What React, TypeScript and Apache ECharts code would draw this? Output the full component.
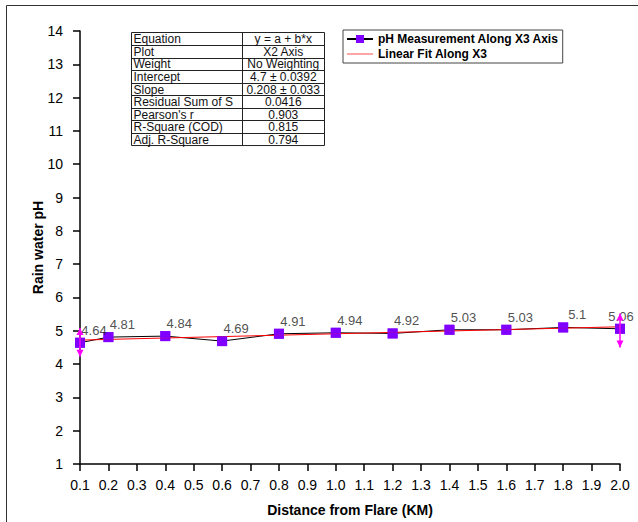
import React, { useEffect, useRef } from "react";
import * as echarts from "echarts";

const distances = [0.1, 0.2, 0.4, 0.6, 0.8, 1.0, 1.2, 1.4, 1.6, 1.8, 2.0];
const phValues = [4.64, 4.81, 4.84, 4.69, 4.91, 4.94, 4.92, 5.03, 5.03, 5.1, 5.06];
const fitX = [0.1, 2.0];
const fitY = [4.72, 5.12];
const errX = [0.1, 2.0];
const errLow = [4.22, 4.5];
const errHigh = [5.08, 5.52];
const tableLabels = [
  "Equation",
  "Plot",
  "Weight",
  "Intercept",
  "Slope",
  "Residual Sum of S",
  "Pearson's r",
  "R-Square (COD)",
  "Adj. R-Square",
];
const tableValues = [
  "y = a + b*x",
  "X2 Axis",
  "No Weighting",
  "4.7 ± 0.0392",
  "0.208 ± 0.033",
  "0.0416",
  "0.903",
  "0.815",
  "0.794",
];

const FONT = "'Liberation Sans', Arial, Helvetica, sans-serif";

export default function App() {
  const ref = useRef<HTMLDivElement>(null);
  useEffect(() => {
    if (!ref.current) return;
    const chart = echarts.init(ref.current, null, { renderer: "svg" });

    const seriesName = "pH Measurement Along X3 Axis";
    const fitName = "Linear Fit Along X3";

    // table graphic
    const tx = 131.5, ty = 32.5, tw = 193, rowH = 12.56, divX = 242;
    const tableEls: any[] = [];
    tableEls.push({
      type: "rect",
      shape: { x: tx, y: ty, width: tw, height: rowH * tableLabels.length },
      style: { fill: "#fff", stroke: "#222", lineWidth: 1 },
    });
    for (let i = 1; i < tableLabels.length; i++) {
      const y = Math.round(ty + rowH * i) + 0.5;
      tableEls.push({
        type: "line",
        shape: { x1: tx, y1: y, x2: tx + tw, y2: y },
        style: { stroke: "#222", lineWidth: 1 },
      });
    }
    tableEls.push({
      type: "line",
      shape: { x1: divX + 0.5, y1: ty, x2: divX + 0.5, y2: ty + rowH * tableLabels.length },
      style: { stroke: "#222", lineWidth: 1 },
    });
    tableLabels.forEach((t, i) => {
      tableEls.push({
        type: "text",
        x: tx + 2,
        y: ty + rowH * i + rowH / 2 + 0.5,
        style: { text: t, font: `12px ${FONT}`, fill: "#111", verticalAlign: "middle", align: "left" },
      });
    });
    tableValues.forEach((t, i) => {
      tableEls.push({
        type: "text",
        x: (divX + tx + tw) / 2,
        y: ty + rowH * i + rowH / 2 + 0.5,
        style: { text: t, font: `12px ${FONT}`, fill: "#111", verticalAlign: "middle", align: "center" },
      });
    });

    const lastIdx = distances.length - 1;
    const pointData = distances.map((x, i) =>
      i === lastIdx
        ? { value: [x, phValues[i]], label: { offset: [1, 0] } }
        : { value: [x, phValues[i]] }
    );

    const option: any = {
      animation: false,
      backgroundColor: "#fff",
      textStyle: { fontFamily: FONT },
      grid: { left: 80, right: 18, top: 31, bottom: 55 },
      legend: {
        orient: "vertical",
        left: 343,
        top: 30,
        borderColor: "#444",
        borderWidth: 1,
        padding: [3, 4, 3, 3],
        itemGap: 3,
        itemWidth: 26,
        itemHeight: 10,
        textStyle: { fontWeight: "bold", fontSize: 12, fontFamily: FONT, color: "#000" },
        data: [
          { name: seriesName },
          {
            name: fitName,
            icon: "path://M0,0 H26 V1.5 H0 Z",
            itemStyle: { color: "#ff8a8a" },
          },
        ],
      },
      xAxis: {
        type: "value",
        min: 0.1,
        max: 2.0,
        interval: 0.1,
        name: "Distance from Flare (KM)",
        nameLocation: "middle",
        nameGap: 39,
        nameMoveOverlap: false,
        nameTextStyle: { fontWeight: "bold", fontSize: 14, color: "#000", fontFamily: FONT },
        axisLine: { show: true, lineStyle: { color: "#000", width: 1.5 } },
        axisTick: { show: true, inside: false, length: 7, lineStyle: { color: "#000", width: 1.5 } },
        axisLabel: {
          fontSize: 14,
          color: "#000",
          margin: 14,
          fontFamily: FONT,
          formatter: (v: number) => v.toFixed(1),
        },
        splitLine: { show: false },
      },
      yAxis: {
        type: "value",
        min: 1,
        max: 14,
        interval: 1,
        name: "Rain water pH",
        nameLocation: "middle",
        nameGap: 35,
        nameMoveOverlap: false,
        nameRotate: 90,
        nameTextStyle: { fontWeight: "bold", fontSize: 14, color: "#000", fontFamily: FONT },
        axisLine: { show: true, lineStyle: { color: "#000", width: 1.5 } },
        axisTick: { show: true, inside: false, length: 7, lineStyle: { color: "#000", width: 1.5 } },
        axisLabel: { fontSize: 14, color: "#000", margin: 17, fontFamily: FONT },
        splitLine: { show: false },
      },
      series: [
        {
          name: seriesName,
          type: "line",
          z: 2,
          data: distances.map((x, i) => [x, phValues[i]]),
          symbol: "rect",
          symbolSize: 10,
          showSymbol: true,
          itemStyle: { color: "#8000ff" },
          lineStyle: { color: "#000", width: 1 },
          label: { show: false },
        },
        {
          name: fitName,
          type: "line",
          z: 3,
          data: fitX.map((x, i) => [x, fitY[i]]),
          symbol: "none",
          itemStyle: { color: "#ff0000" },
          lineStyle: { color: "#ff0000", width: 1 },
        },
        {
          name: "points",
          type: "scatter",
          z: 4,
          data: pointData,
          symbol: "rect",
          symbolSize: 10,
          itemStyle: { color: "#8000ff" },
          label: {
            show: true,
            position: "top",
            distance: 1,
            offset: [14, 0],
            fontSize: 13,
            color: "#222",
            fontFamily: FONT,
            formatter: (p: any) => String(p.value[1]),
          },
        },
        {
          name: "errors",
          type: "custom",
          z: 5,
          data: errX.map((x, i) => [x, errLow[i], errHigh[i]]),
          renderItem: (params: any, api: any) => {
            const x = api.value(0);
            const lo = api.coord([x, api.value(1)]);
            const hi = api.coord([x, api.value(2)]);
            const c = "#ff00ff";
            return {
              type: "group",
              children: [
                {
                  type: "line",
                  shape: { x1: lo[0], y1: lo[1], x2: hi[0], y2: hi[1] },
                  style: { stroke: c, lineWidth: 1.5 },
                },
                {
                  type: "polygon",
                  shape: { points: [[lo[0] - 3.5, lo[1] - 7], [lo[0] + 3.5, lo[1] - 7], [lo[0], lo[1]]] },
                  style: { fill: c },
                },
                {
                  type: "polygon",
                  shape: { points: [[hi[0] - 3.5, hi[1] + 7], [hi[0] + 3.5, hi[1] + 7], [hi[0], hi[1]]] },
                  style: { fill: c },
                },
              ],
            };
          },
        },
      ],
      graphic: [
        {
          type: "polyline",
          shape: { points: [[6.5, 522], [6.5, 5.5], [638, 5.5]] },
          style: { stroke: "#333", lineWidth: 1, fill: "none" },
        },
        { type: "group", children: tableEls },
      ],
    };
    chart.setOption(option);
    return () => chart.dispose();
  }, []);
  return (
    <div
      ref={ref}
      style={{ position: "fixed", left: 0, top: 0, width: 638, height: 522, background: "#fff" }}
    />
  );
}
